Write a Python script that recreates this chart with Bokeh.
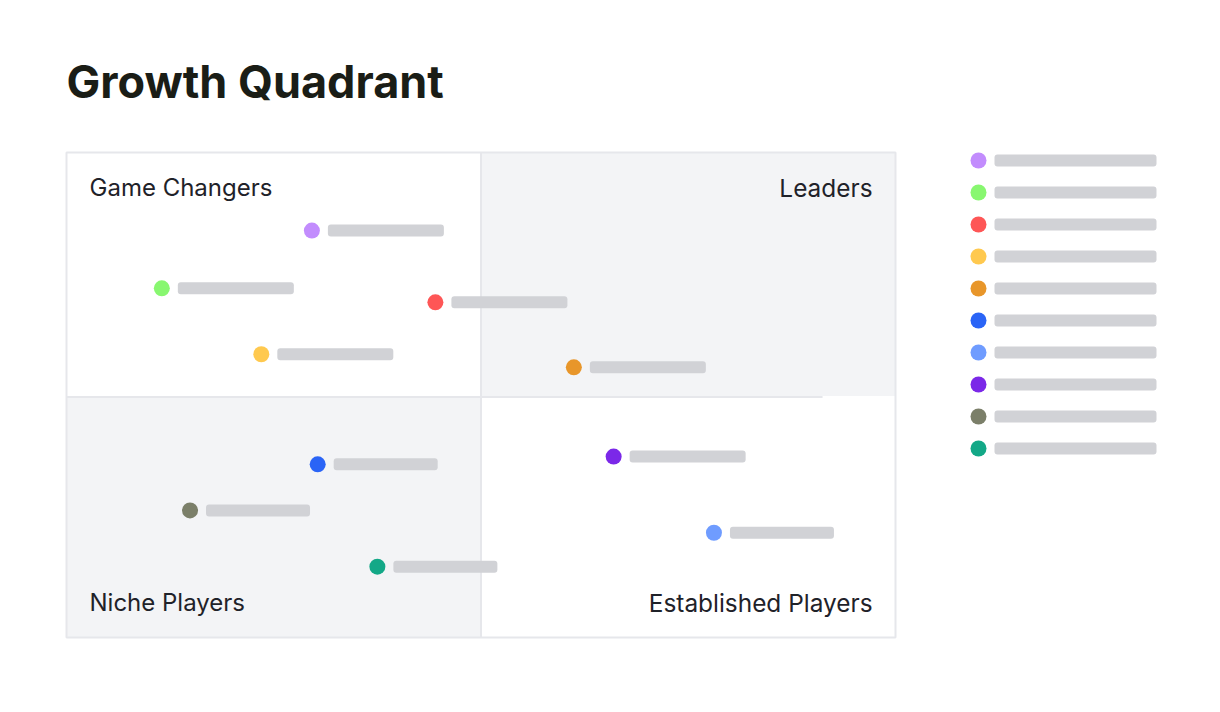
from bokeh.plotting import figure
from bokeh.models import Range1d
from bokeh.embed import file_html
from bokeh.resources import INLINE
from bokeh.core.properties import value

# ---------------- data ----------------
title_text = "Growth Quadrant"
quadrant_names = ["Game Changers", "Leaders", "Niche Players", "Established Players"]
vendors = ["Vendor A", "Vendor B", "Vendor C", "Vendor D", "Vendor E",
           "Vendor F", "Vendor G", "Vendor H", "Vendor I", "Vendor J"]
ability_x = [29.6, 11.5, 44.5, 23.5, 61.2, 30.3, 78.1, 66.0, 14.9, 37.5]
vision_y = [83.9, 72.0, 69.1, 58.4, 55.7, 35.7, 21.6, 37.3, 26.2, 14.6]
colors = ["#c28cfd", "#88f770", "#fe5656", "#ffc94f", "#e8962a",
          "#2a64f6", "#6f9cff", "#7b28e8", "#7b7f69", "#13a887"]
label_px = [116, 116, 116, 116, 116, 104, 104, 116, 104, 104]  # placeholder widths (style)

# ---------------- geometry ----------------
W, H = 1204, 700
BOX_L, BOX_T, BOX_W, BOX_H = 66, 152, 829, 485
sx = BOX_W / 100.0
sy = BOX_H / 100.0
def dx(px):
    return px / sx
def dy(px):
    return px / sy

FONT = value("Inter")
GRID_COL = "#e6e7eb"
FILL_COL = "#f3f4f6"
BAR_COL = "#d1d2d6"
TXT_COL = "#1f2229"
MID_Y = 50 - dy(2)

p = figure(width=W, height=H, output_backend="svg", toolbar_location=None,
           x_range=Range1d(-dx(BOX_L), dx(W - BOX_L)),
           y_range=Range1d(-dy(H - BOX_T - BOX_H), dy(BOX_T + BOX_H)),
           x_axis_type=None, y_axis_type=None,
           min_border_left=0, min_border_right=0, min_border_top=0, min_border_bottom=0,
           min_border=0, outline_line_color=None,
           background_fill_color="white", border_fill_color="white")
p.grid.visible = False

# quadrant fills
p.quad(left=[50, 0], right=[100, 50], bottom=[MID_Y + dy(1), 0], top=[100, MID_Y],
       fill_color=FILL_COL, line_color=None)
# outline
p.quad(left=[0], right=[100], bottom=[0], top=[100], fill_color=None,
       line_color=GRID_COL, line_width=2)
# dividers
p.segment(x0=[50, 0], y0=[0, MID_Y], x1=[50, 91.2], y1=[100, MID_Y],
          line_color=GRID_COL, line_width=2)

# quadrant labels
lab_dx = dx(23)
top_mid = 100 - dy(35)
bot_mid = dy(35)
p.text(x=[lab_dx, lab_dx], y=[top_mid, bot_mid],
       text=[quadrant_names[0], quadrant_names[2]], text_font=FONT,
       text_font_size="24px", text_color=TXT_COL, text_align="left",
       text_baseline="middle")
p.text(x=[100 - lab_dx, 100 - lab_dx], y=[top_mid, bot_mid],
       text=[quadrant_names[1], quadrant_names[3]], text_font=FONT,
       text_font_size="24.4px", text_color=TXT_COL, text_align="right",
       text_baseline="middle")

# placeholder label bars next to each point
bar_cx = [x + dx(16 + w / 2.0) for x, w in zip(ability_x, label_px)]
p.rect(x=bar_cx, y=vision_y, width=label_px, height=12,
       width_units="screen", height_units="screen",
       fill_color=BAR_COL, line_color=None, border_radius=3)
# points
p.scatter(x=ability_x, y=vision_y, size=16, marker="circle",
          fill_color=colors, line_color=None)

# legend (drawn as marks)
leg_x0 = 100 + dx(83)
leg_y0 = 100 - dy(8)
leg_step = dy(32)
leg_bar_w = 162
leg_ys = [leg_y0 - i * leg_step for i in range(len(colors))]
p.rect(x=[leg_x0 + dx(16 + leg_bar_w / 2.0)] * len(colors), y=leg_ys,
       width=leg_bar_w, height=12, width_units="screen", height_units="screen",
       fill_color=BAR_COL, line_color=None, border_radius=3)
p.scatter(x=[leg_x0] * len(colors), y=leg_ys, size=16, marker="circle",
          fill_color=colors, line_color=None)

# title
p.text(x=[0], y=[100 + dy(71)], text=[title_text], text_font=FONT,
       text_font_size="45px", text_font_style="bold", text_color="#1a1d16",
       text_align="left", text_baseline="middle")

open("out.html", "w").write(file_html(p, INLINE))
